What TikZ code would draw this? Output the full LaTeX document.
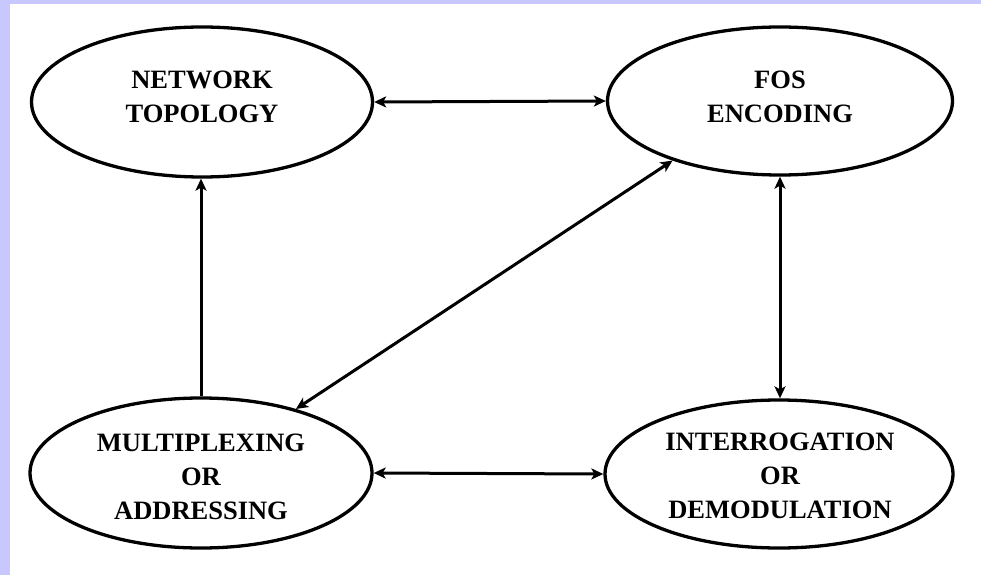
\documentclass[tikz,border=0pt]{standalone}
\usepackage{fontspec}
\setmainfont{Liberation Serif}
\usetikzlibrary{shapes.geometric,arrows.meta}
\definecolor{frame}{RGB}{200,200,255}
\tikzset{
  oval/.style={draw=black, line width=3.3pt, ellipse, inner sep=0pt},
  lbl/.style={align=center, inner sep=0pt,
    font=\fontsize{26.5}{34}\selectfont\bfseries},
  tip/.style={Stealth[length=12pt,width=11pt,inset=3pt]},
  link/.style={draw=black, line width=3pt, arrows={-Stealth[length=12pt,width=11pt,inset=3pt]}},
  both/.style={draw=black, line width=3pt,
    arrows={Stealth[length=12pt,width=11pt,inset=3pt]-Stealth[length=12pt,width=11pt,inset=3pt]}},
}
\begin{document}
\begin{tikzpicture}[x=1pt,y=-1pt]
  % page and frame strips
  \fill[white] (0,0) rectangle (981,575);
  \fill[frame] (0,0) rectangle (10,575);
  \fill[frame] (0,0) rectangle (981,4);
  \useasboundingbox (0,0) rectangle (981,575);

  % the four ovals
  \node[oval, minimum width=341pt, minimum height=150pt] (tl) at (202,102) {};
  \node[oval, minimum width=345pt, minimum height=148pt] (fe) at (780,101) {};
  \node[oval, minimum width=342pt, minimum height=150pt] (ml) at (201,473) {};
  \node[oval, minimum width=348pt, minimum height=148pt] (id) at (779,474) {};

  % their texts
  \node[lbl] (tltext) at (202,97) {NETWORK\\TOPOLOGY};
  \node[lbl] (fetext) at (780,97) {FOS\\ENCODING};
  \node[lbl] (mltext) at (201,477) {MULTIPLEXING\\OR\\ADDRESSING};
  \node[lbl] (idtext) at (780,476) {INTERROGATION\\OR\\DEMODULATION};

  % connectors
  \draw[both] (tl.east) -- (fe.west);
  \draw[both] (ml.east) -- (id.west);
  \draw[link] (ml.north) -- (ml.north |- tl.south);
  \draw[both] (fe.south) -- (fe.south |- id.north);
  \draw[both] (ml.34.7) -- (fe.209.9);
\end{tikzpicture}
\end{document}
